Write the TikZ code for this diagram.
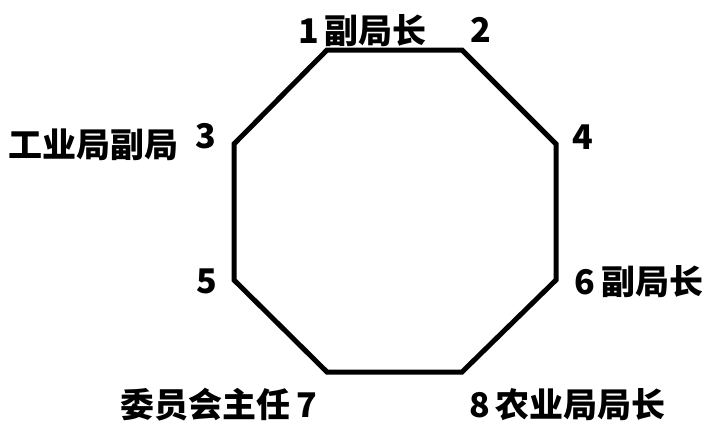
\documentclass[tikz,border=0pt]{standalone}
\usepackage{fontspec}
\usepackage{tikz}
\usetikzlibrary{positioning}
\newfontfamily\cjk{Noto Sans CJK SC}
\tikzstyle{lbl}=[anchor=base west, inner sep=0pt, font=\cjk\bfseries\fontsize{34pt}{34pt}\selectfont]
\tikzstyle{edge}=[line width=5pt]

\begin{document}
\begin{tikzpicture}[x=1pt, y=-1pt]
\useasboundingbox (0,0) rectangle (711,426);

% corners of the octagon
\coordinate (v1) at (327,50);
\coordinate (v2) at (462,50);
\coordinate (v4) at (556,144);
\coordinate (v6) at (556,280);
\coordinate (v8) at (462,372);
\coordinate (v7) at (327,372);
\coordinate (v5) at (234,280);
\coordinate (v3) at (234,144);

\draw[edge] (v1) -- (v2) -- (v4) -- (v6) -- (v8) -- (v7) -- (v5) -- (v3) -- cycle;

% seat labels
\node[lbl] (l1) at (298,43) {1\hspace{6pt}副局长};
\node[lbl] (l2) at (470,42) {2};
\node[lbl] (l3) at (195,148) {3};
\node[lbl] (t3) at (8,157) {工业局副局};
\node[lbl] (l4) at (572,149) {4};
\node[lbl] (l5) at (196,293) {5};
\node[lbl] (l6) at (574,294) {6\hspace{7pt}副局长};
\node[lbl] (l7) at (120,417) {委员会主任\hspace{6pt}7};
\node[lbl] (l8) at (469,417) {8\hspace{6pt}农业局局长};

\end{tikzpicture}
\end{document}
